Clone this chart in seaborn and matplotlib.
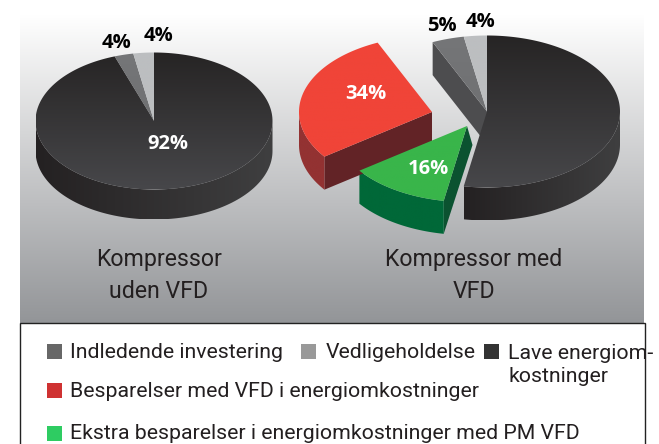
import numpy as np
import seaborn as sb
import matplotlib.pyplot as plt
from matplotlib.patches import Polygon, Rectangle

# shares as the slices are actually drawn in the picture (percent of the circle),
# the printed labels do not quite agree with the drawn angles
left_names = ['energy', 'invest', 'service']
left_shares = [94.6, 2.6, 2.8]
left_labels = ['92%', '4%', '4%']

right_names = ['energy', 'extra', 'saving', 'invest', 'service']
right_shares = [52.8, 12.2, 28.3, 3.9, 2.8]
right_labels = ['', '16%', '34%', '5%', '4%']

pie_titles = ['Kompressor\nuden VFD', 'Kompressor med\nVFD']

legend_names = ['Indledende investering', 'Vedligeholdelse', 'Lave energiom-\nkostninger',
                'Besparelser med VFD i energiomkostninger',
                'Ekstra besparelser i energiomkostninger med PM VFD']
legend_colors = ['#676767', '#999999', '#333333', '#cf3232', '#2ecc62']

TEXT_FONT = 'Roboto'
LABEL_FONT = 'Open Sans'

# top gradient start/end, side gradient left/right, cut face colour
styles = {
    'energy': dict(top=['#262424', '#47474a'], side=['#242122', '#3f3f40'], cut=None),
    'invest': dict(top=['#757678', '#6a6b6d'], side=None, cut='#4d4d4f'),
    'service': dict(top=['#bcbec0', '#bcbec0'], side=None, cut=None),
    'saving': dict(top=['#f04438', '#f04438'], side=['#933232', '#933232'], cut='#622326'),
    'extra': dict(top=['#39b54a', '#39b54a'], side=['#006838', '#006838'], cut='#0b5230'),
}


def ellipse_xy(cx, cy, rx, ry, t):
    # t in degrees, clockwise from twelve o'clock, y axis points down
    t = np.radians(t)
    return cx + rx * np.sin(t), cy - ry * np.cos(t)


def fill_gradient(ax, poly, colors, extent, horizontal=False):
    cmap = sb.blend_palette(colors, as_cmap=True)
    grad = np.linspace(0, 1, 256)
    grad = grad.reshape(1, -1) if horizontal else grad.reshape(-1, 1)
    im = ax.imshow(grad, cmap=cmap, extent=extent, aspect='auto', zorder=2)
    patch = Polygon(poly, closed=True, transform=ax.transData, fc='none', ec='none')
    ax.add_patch(patch)
    im.set_clip_path(patch)


def draw_pie(ax, names, shares, cx, cy, rx, ry, depth, offsets={}, cut_shift={}):
    starts = np.cumsum([0] + list(shares))[:-1] * 3.6
    spans = np.array(shares) * 3.6
    # side faces first, tops after
    for name, start, span in zip(names, starts, spans):
        st = styles[name]
        dx, dy = offsets.get(name, (0, 0))
        x0, y0 = cx + dx, cy + dy
        a, b = start, start + span
        if st['cut'] is not None:
            ex, ey = ellipse_xy(x0, y0, rx, ry, a)
            sx, sy = cut_shift.get(name, (0, depth))
            ax.add_patch(Polygon([(x0, y0), (ex, ey), (ex, ey + depth), (x0 + sx, y0 + sy)],
                                 closed=True, fc=st['cut'], ec='none', zorder=2))
        if st['side'] is not None:
            lo, hi = max(a, 90), min(b, 270)
            if hi > lo:
                t = np.linspace(lo, hi, 120)
                xs, ys = ellipse_xy(x0, y0, rx, ry, t)
                poly = np.vstack([np.c_[xs, ys], np.c_[xs[::-1], ys[::-1] + depth]])
                fill_gradient(ax, poly, st['side'], (xs.min(), xs.max(), ys.max() + depth, ys.min()),
                              horizontal=True)
    for name, start, span in zip(names, starts, spans):
        st = styles[name]
        dx, dy = offsets.get(name, (0, 0))
        x0, y0 = cx + dx, cy + dy
        t = np.linspace(start, start + span, 200)
        xs, ys = ellipse_xy(x0, y0, rx, ry, t)
        poly = np.vstack([[x0, y0], np.c_[xs, ys]])
        # gradient runs over the whole disc height
        fill_gradient(ax, poly, st['top'], (x0 - rx, x0 + rx, y0 + ry, y0 - ry))


sb.set_theme(style='white')
fig = plt.figure(figsize=(6.59, 4.44), dpi=100)
ax = fig.add_axes([0, 0, 1, 1])

# background panel
bg = sb.blend_palette(['#ffffff', '#939598'], as_cmap=True)
ax.imshow(np.linspace(0, 1, 256).reshape(-1, 1), cmap=bg, extent=(20, 644, 323, 15), aspect='auto', zorder=1)

draw_pie(ax, left_names, left_shares, 154, 121, 118.5, 68.5, 30)
draw_pie(ax, right_names, right_shares, 487, 111.5, 133, 76, 33,
         offsets={'saving': (-55, 0.5), 'extra': (-20, 14.5)},
         cut_shift={'extra': (5.5, 19)})

# percent labels
for lab, (x, y), c in zip(left_labels, [(168, 144), (116, 43), (159, 36)], ['white', 'black', 'black']):
    ax.text(x, y, lab, ha='center', va='center', color=c, fontsize=14.5, fontweight='bold',
            family=LABEL_FONT, zorder=5)
for lab, (x, y), c in zip(right_labels[1:], [(428, 169), (366, 94), (442, 26), (481, 22)],
                          ['white', 'white', 'black', 'black']):
    ax.text(x, y, lab, ha='center', va='center', color=c, fontsize=14.5, fontweight='bold',
            family=LABEL_FONT, zorder=5)

# pie captions
for title, x in zip(pie_titles, [159, 474]):
    ax.text(x, 275.5, title, ha='center', va='center', color='#231f20', fontsize=16.7,
            family=TEXT_FONT, linespacing=1.5, zorder=5)

# legend box
ax.add_patch(Rectangle((20, 323), 625, 130, fc='white', ec='#222222', lw=1, zorder=4))

swatches = [(47, 344), (301, 344), (484, 344), (47, 383), (47, 426)]
text_pos = [(70, 352), (326, 352), (508, 365), (70, 391), (70, 433)]
for name, col, (sx, sy), (tx, ty) in zip(legend_names, legend_colors, swatches, text_pos):
    ax.add_patch(Rectangle((sx, sy), 15, 15, fc=col, ec='none', zorder=5))
    ax.text(tx, ty, name, ha='left', va='center', color='#231f20', fontsize=15.3,
            family=TEXT_FONT, linespacing=1.25, zorder=6)

ax.set_xlim(0, 659)
ax.set_ylim(444, 0)
ax.axis('off')
fig.savefig('out.png', dpi=100)
